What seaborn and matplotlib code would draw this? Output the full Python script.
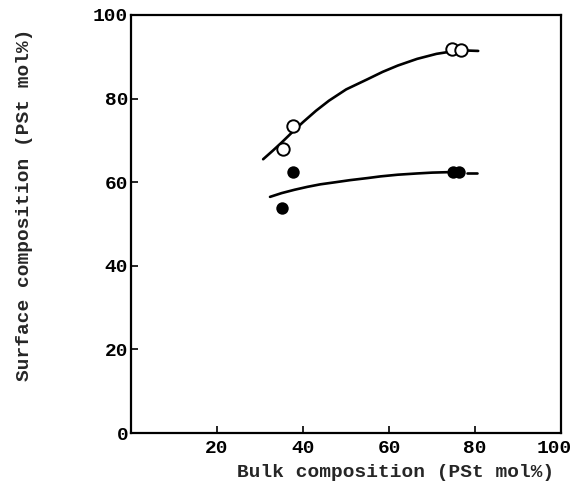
import matplotlib
matplotlib.use("Agg")
import matplotlib.pyplot as plt
import matplotlib.transforms as mtransforms
import seaborn as sns
import pandas as pd

# measured points (bulk vs surface PSt mol%)
open_x = [35.3, 37.7, 74.7, 76.7]
open_y = [68.0, 73.5, 91.9, 91.6]
filled_x = [35.1, 37.7, 74.9, 76.3]
filled_y = [53.8, 62.4, 62.4, 62.4]

# hand-drawn trend curves
upper_x = [30.7, 33.0, 35.0, 37.5, 40.0, 43.0, 46.0, 50.0, 54.9, 58.5, 62.0, 66.5, 71.0, 74.7, 78.0, 80.7]
upper_y = [65.5, 67.6, 69.5, 72.0, 74.4, 77.1, 79.5, 82.2, 84.6, 86.4, 87.9, 89.5, 90.7, 91.3, 91.5, 91.4]
lower_x = [32.3, 35.0, 38.0, 41.0, 44.0, 47.5, 50.9, 55.0, 58.0, 62.0, 66.5, 70.0, 73.5]
lower_y = [56.5, 57.4, 58.2, 58.9, 59.5, 60.0, 60.5, 61.0, 61.4, 61.8, 62.1, 62.3, 62.4]
dash_x = [78.0, 80.5]
dash_y = [62.2, 62.2]

xticks = [20, 40, 60, 80, 100]
yticks = [0, 20, 40, 60, 80, 100]

sns.set_style("ticks")
plt.rcParams["font.family"] = ["Liberation Mono", "DejaVu Sans Mono"]
plt.rcParams["font.weight"] = "bold"

fig = plt.figure(figsize=(5.75, 4.99), dpi=100)
ax = fig.add_axes([0.228, 0.132, 0.748, 0.838])

lw = 1.9
sns.lineplot(x=upper_x, y=upper_y, ax=ax, color="black", lw=lw, sort=False)
sns.lineplot(x=lower_x, y=lower_y, ax=ax, color="black", lw=lw, sort=False)
sns.lineplot(x=dash_x, y=dash_y, ax=ax, color="black", lw=lw, sort=False)

pts_open = pd.DataFrame({"x": open_x, "y": open_y})
pts_fill = pd.DataFrame({"x": filled_x, "y": filled_y})
sns.scatterplot(data=pts_open, x="x", y="y", ax=ax, s=80, facecolor="white",
                edgecolor="black", linewidth=1.4, zorder=3)
sns.scatterplot(data=pts_fill, x="x", y="y", ax=ax, s=80, color="black",
                edgecolor="black", linewidth=0, zorder=3)

ax.set_xlim(0, 100)
ax.set_ylim(0, 100)
ax.set_xticks(xticks)
ax.set_yticks(yticks)
ax.tick_params(direction="in", length=5, width=1.2, labelsize=14, colors="black")
ax.tick_params(axis="y", pad=2)
ax.tick_params(axis="x", pad=5)
for lbl in ax.get_xticklabels() + ax.get_yticklabels():
    lbl.set_fontweight("bold")
# keep the right-most "100" inside the canvas
last = ax.get_xticklabels()[-1]
last.set_transform(last.get_transform() +
                   mtransforms.ScaledTranslation(-5 / 72, 0, fig.dpi_scale_trans))
for sp in ax.spines.values():
    sp.set_linewidth(1.6)
    sp.set_color("black")

ax.set_xlabel("Bulk composition (PSt mol%)", fontsize=14, fontweight="bold")
ax.set_ylabel("Surface composition (PSt mol%)", fontsize=14, fontweight="bold")
ax.xaxis.set_label_coords(0.614, -0.093)
ax.yaxis.set_label_coords(-0.248, 0.545)
ax.xaxis.label.set_va("center")
ax.yaxis.label.set_va("center")

fig.savefig("out.png", dpi=100)
